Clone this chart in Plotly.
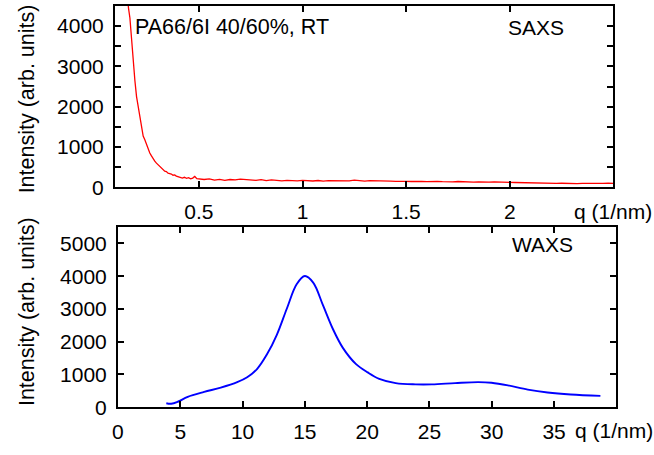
import plotly.graph_objects as go

# SAXS data (q in 1/nm, intensity arb. units)
saxs_q = [0.150, 0.160, 0.167, 0.175, 0.183, 0.191, 0.199, 0.207, 0.215, 0.223,
          0.231, 0.239, 0.247, 0.255, 0.263, 0.271, 0.279, 0.287, 0.295, 0.303,
          0.311, 0.319, 0.327, 0.335, 0.343, 0.351, 0.359, 0.367, 0.375, 0.383,
          0.391, 0.400, 0.410, 0.420, 0.430, 0.440, 0.450, 0.460, 0.470, 0.480,
          0.490, 0.500, 0.525, 0.550, 0.575, 0.600, 0.625, 0.650, 0.675, 0.700,
          0.725, 0.750, 0.775, 0.800, 0.825, 0.850, 0.875, 0.900, 0.925, 0.950,
          0.975, 1.000, 1.025, 1.050, 1.075, 1.100, 1.125, 1.150, 1.175, 1.200,
          1.225, 1.250, 1.275, 1.300, 1.325, 1.350, 1.375, 1.400, 1.425, 1.450,
          1.475, 1.500, 1.525, 1.550, 1.575, 1.600, 1.625, 1.650, 1.675, 1.700,
          1.725, 1.750, 1.775, 1.800, 1.825, 1.850, 1.875, 1.900, 1.925, 1.950,
          1.975, 2.000, 2.025, 2.050, 2.075, 2.100, 2.125, 2.150, 2.175, 2.200,
          2.225, 2.250, 2.275, 2.300, 2.325, 2.350, 2.375, 2.400, 2.425, 2.450,
          2.475, 2.500]
saxs_i = [5200, 4450, 4200, 3600, 3060, 2650, 2250, 2000, 1840, 1500,
          1270, 1180, 1050, 940, 850, 780, 700, 650, 600, 560,
          520, 490, 440, 400, 390, 350, 340, 330, 300, 310,
          280, 270, 255, 230, 250, 225, 240, 210, 230, 270,
          215, 205, 195, 210, 180, 200, 175, 195, 185, 205,
          190, 180, 175, 190, 165, 185, 170, 160, 175, 165,
          160, 175, 165, 158, 170, 155, 165, 160, 158, 168,
          160, 178, 162, 155, 165, 158, 150, 160, 152, 148,
          158, 150, 145, 155, 148, 142, 150, 145, 140, 148,
          138, 145, 135, 140, 132, 138, 130, 128, 135, 126,
          130, 122, 120, 115, 112, 108, 105, 110, 100, 104,
          98, 102, 96, 100, 95, 98, 94, 100, 96, 98,
          102, 100]

# WAXS data
waxs_q = [3.88, 4.27, 4.8, 5.6, 6.92, 8.25, 9.57, 10.37, 11.16, 11.96,
          12.75, 13.55, 14.34, 15.0, 15.67, 16.46, 17.26, 18.05, 19.11, 20.04,
          20.97, 22.29, 23.88, 25.2, 27.06, 28.92, 29.98, 31.3, 32.89, 34.48,
          36.34, 38.72]
waxs_i = [120, 105, 167, 317, 467, 598, 765, 915, 1165, 1614,
          2212, 3007, 3754, 4005, 3805, 3108, 2380, 1812, 1315, 1064,
          866, 736, 697, 697, 736, 766, 746, 666, 537, 448,
          388, 347]

# tick labels
saxs_xticks = [0.5, 1, 1.5, 2]
saxs_yticks = [0, 1000, 2000, 3000, 4000]
waxs_xticks = [0, 5, 10, 15, 20, 25, 30, 35]
waxs_yticks = [0, 1000, 2000, 3000, 4000, 5000]

W, H = 654, 455
FONT = "Liberation Sans, Arial, sans-serif"
FS = 21

fig = go.Figure()
fig.add_trace(go.Scatter(x=saxs_q, y=saxs_i, mode="lines",
                         line=dict(color="#ff0000", width=1.3),
                         xaxis="x", yaxis="y", showlegend=False))
fig.add_trace(go.Scatter(x=waxs_q, y=waxs_i, mode="lines",
                         line=dict(color="#0000ff", width=1.9, shape="spline", smoothing=1.0),
                         xaxis="x2", yaxis="y2", showlegend=False))

axis_common = dict(showline=True, mirror="ticks", linecolor="black", linewidth=2,
                   ticks="inside", ticklen=6, tickwidth=1.5, tickcolor="black",
                   showgrid=False, zeroline=False,
                   tickfont=dict(family=FONT, size=FS, color="black"))

fig.update_layout(
    width=W, height=H,
    margin=dict(l=0, r=0, t=0, b=0),
    paper_bgcolor="white", plot_bgcolor="white",
    xaxis=dict(domain=[110 / W, 613 / W], range=[0.095, 2.5], tickvals=saxs_xticks,
               anchor="y", ticklabelstandoff=4, **axis_common),
    yaxis=dict(domain=[1 - 192 / H, 1 - 6 / H], range=[0, 4500], tickvals=saxs_yticks,
               anchor="x", ticklabelstandoff=5,
               minor=dict(dtick=500, ticks="inside", ticklen=6, tickcolor="black", tickwidth=1.5),
               **axis_common),
    xaxis2=dict(domain=[113 / W, 616 / W], range=[0, 40], tickvals=waxs_xticks,
                anchor="y2", ticklabelstandoff=5, **axis_common),
    yaxis2=dict(domain=[1 - 417.3 / H, 1 - 232.7 / H], range=[0, 5500], tickvals=waxs_yticks,
                anchor="x2", ticklabelstandoff=5, **axis_common),
)

annotations = [
    dict(text="PA66/6I 40/60%, RT", x=128, y=H - 28, xanchor="left", yanchor="middle", fs=21.5),
    dict(text="SAXS", x=505, y=H - 28, xanchor="left", yanchor="middle", fs=FS),
    dict(text="WAXS", x=509, y=H - 251, xanchor="left", yanchor="middle", fs=FS),
    dict(text="q (1/nm)", x=571, y=H - 217, xanchor="left", yanchor="middle", fs=FS),
    dict(text="q (1/nm)", x=572, y=H - 441, xanchor="left", yanchor="middle", fs=FS),
    dict(text="Intensity (arb. units)", x=21, y=H - 101, xanchor="center", yanchor="middle", textangle=-90, fs=21.5),
    dict(text="Intensity (arb. units)", x=21, y=H - 319, xanchor="center", yanchor="middle", textangle=-90, fs=21.5),
]
for a in annotations:
    fs = a.pop("fs")
    fig.add_annotation(xref="paper", yref="paper", showarrow=False,
                       font=dict(family=FONT, size=fs, color="black"),
                       **{k: (v / W if k == "x" else v / H if k == "y" else v) for k, v in a.items()})

fig.write_html("out.html")
